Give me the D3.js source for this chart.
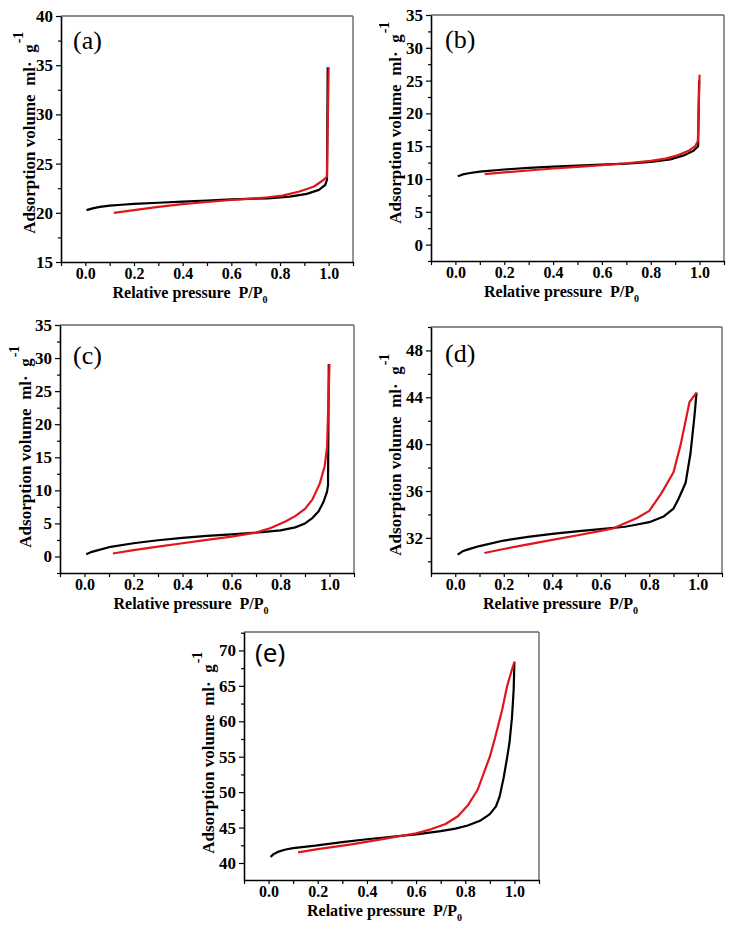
<!DOCTYPE html>
<html>
<head>
<meta charset="utf-8">
<script src="https://cdn.jsdelivr.net/npm/d3@7"></script>
<style>
  html, body { margin: 0; padding: 0; background: #fff; }
  svg { display: block; }
  svg text { white-space: pre; }
</style>
</head>
<body>
<svg id="chart" width="734" height="929"></svg>
<script>
// ---------------- DATA ----------------
const panelIds = ["a", "b", "c", "d", "e"];
const panelLabels = ["(a)", "(b)", "(c)", "(d)", "(e)"];
const xTitle = "Relative pressure  P/P";
const xTitleSub = "0";
const yTitle = "Adsorption volume  ml·  g";
const yTitleSup = "-1";

const xTicksMajor = [0.0, 0.2, 0.4, 0.6, 0.8, 1.0];
const xTicksMinor = [-0.1, 0.1, 0.3, 0.5, 0.7, 0.9, 1.1];
const xDomain = [-0.1, 1.1];

const yDomainA = [15, 40];
const yTicksA = [15, 20, 25, 30, 35, 40];
const yDomainB = [-2.5, 35];
const yTicksB = [0, 5, 10, 15, 20, 25, 30, 35];
const yDomainC = [-2.5, 35];
const yTicksC = [0, 5, 10, 15, 20, 25, 30, 35];
const yDomainD = [29, 50];
const yTicksD = [32, 36, 40, 44, 48];
const yDomainE = [37.6, 72.6];
const yTicksE = [40, 45, 50, 55, 60, 65, 70];

// (a) black = adsorption, red = desorption
const aBlackX = [0.005, 0.03, 0.06, 0.1, 0.15, 0.2, 0.3, 0.4, 0.5, 0.6, 0.7, 0.75, 0.84, 0.91, 0.96, 0.986, 0.993, 0.996];
const aBlackY = [20.27, 20.45, 20.6, 20.72, 20.82, 20.9, 21.02, 21.13, 21.25, 21.36, 21.44, 21.47, 21.64, 21.92, 22.33, 22.84, 23.36, 34.8];
const aRedX = [0.117, 0.2, 0.3, 0.4, 0.5, 0.6, 0.7, 0.75, 0.81, 0.88, 0.94, 0.98, 0.993, 1.0];
const aRedY = [20.0, 20.27, 20.6, 20.89, 21.1, 21.3, 21.47, 21.58, 21.75, 22.16, 22.67, 23.36, 23.7, 34.8];

// (b)
const bBlackX = [0.01, 0.03, 0.06, 0.1, 0.2, 0.3, 0.4, 0.5, 0.6, 0.7, 0.8, 0.88, 0.935, 0.975, 0.994, 0.998];
const bBlackY = [10.41, 10.7, 10.91, 11.12, 11.45, 11.7, 11.9, 12.05, 12.2, 12.35, 12.6, 13.0, 13.6, 14.3, 15.0, 25.0];
const bRedX = [0.12, 0.2, 0.3, 0.4, 0.5, 0.6, 0.7, 0.8, 0.86, 0.91, 0.955, 0.982, 0.993, 1.0];
const bRedY = [10.75, 11.0, 11.3, 11.6, 11.85, 12.1, 12.4, 12.75, 13.1, 13.6, 14.3, 15.0, 15.8, 25.9];

// (c)
const cBlackX = [0.007, 0.03, 0.06, 0.1, 0.2, 0.3, 0.4, 0.5, 0.6, 0.7, 0.8, 0.86, 0.9, 0.93, 0.955, 0.975, 0.99, 0.994, 0.997];
const cBlackY = [0.35, 0.7, 1.0, 1.4, 2.0, 2.45, 2.8, 3.1, 3.35, 3.6, 3.95, 4.4, 5.0, 5.8, 6.8, 8.2, 9.8, 10.8, 29.1];
const cRedX = [0.116, 0.2, 0.3, 0.4, 0.5, 0.6, 0.7, 0.76, 0.82, 0.86, 0.9, 0.93, 0.96, 0.98, 0.99, 1.0];
const cRedY = [0.45, 0.95, 1.5, 2.0, 2.5, 3.0, 3.6, 4.3, 5.3, 6.1, 7.2, 8.6, 11.0, 13.6, 16.5, 29.1];

// (d)
const dBlackX = [0.01, 0.03, 0.06, 0.1, 0.2, 0.3, 0.4, 0.5, 0.61, 0.7, 0.75, 0.8, 0.86, 0.9, 0.92, 0.95, 0.97, 0.986, 0.995];
const dBlackY = [30.57, 30.85, 31.06, 31.3, 31.77, 32.08, 32.34, 32.55, 32.77, 32.95, 33.14, 33.34, 33.83, 34.5, 35.3, 36.7, 39.2, 42.3, 44.4];
const dRedX = [0.12, 0.2, 0.3, 0.4, 0.5, 0.6, 0.65, 0.75, 0.8, 0.85, 0.9, 0.93, 0.966, 0.995];
const dRedY = [30.71, 31.05, 31.45, 31.83, 32.2, 32.6, 32.8, 33.7, 34.3, 35.8, 37.6, 40.0, 43.6, 44.4];

// (e)
const eBlackX = [0.008, 0.02, 0.04, 0.07, 0.1, 0.19, 0.3, 0.4, 0.5, 0.6, 0.7, 0.76, 0.81, 0.86, 0.9, 0.925, 0.94, 0.956, 0.97, 0.98, 0.99, 0.997, 1.0];
const eBlackY = [40.85, 41.25, 41.6, 41.9, 42.1, 42.44, 42.95, 43.35, 43.7, 44.05, 44.5, 44.85, 45.3, 45.95, 46.9, 48.0, 49.4, 52.0, 54.8, 57.0, 60.5, 64.5, 68.4];
const eRedX = [0.12, 0.2, 0.33, 0.47, 0.6, 0.66, 0.72, 0.77, 0.81, 0.85, 0.9, 0.92, 0.95, 0.97, 0.99, 1.0];
const eRedY = [41.5, 41.95, 42.6, 43.4, 44.2, 44.75, 45.5, 46.6, 48.1, 50.3, 55.0, 57.5, 61.6, 64.9, 67.3, 68.4];

const blackSeries = [[aBlackX, aBlackY], [bBlackX, bBlackY], [cBlackX, cBlackY], [dBlackX, dBlackY], [eBlackX, eBlackY]];
const redSeries = [[aRedX, aRedY], [bRedX, bRedY], [cRedX, cRedY], [dRedX, dRedY], [eRedX, eRedY]];
const yDomains = [yDomainA, yDomainB, yDomainC, yDomainD, yDomainE];
const yTicksAll = [yTicksA, yTicksB, yTicksC, yTicksD, yTicksE];

// ---------------- LAYOUT ----------------
const layout = [
  { l: 61,  r: 353, t: 16,  b: 262, ylx: -26, yly: 0,   lx: 73,  ly: 49,  lfont: '"Liberation Serif", serif', xtOff: -17 },
  { l: 431, r: 724, t: 15,  b: 261, ylx: -30, yly: -9,  lx: 445, ly: 48,  lfont: '"Liberation Serif", serif', xtOff: -16 },
  { l: 60,  r: 354, t: 325, b: 573, ylx: -29, yly: 4,   lx: 73,  ly: 364, lfont: '"Liberation Serif", serif', xtOff: -16 },
  { l: 431, r: 722, t: 327, b: 573, ylx: -30, yly: 11,  lx: 445, ly: 362, lfont: '"Liberation Serif", serif', xtOff: -16 },
  { l: 244, r: 539, t: 632, b: 880, ylx: -30, yly: 3,   lx: 255, ly: 662, lfont: '"Noto Sans", sans-serif', xtOff: -7 }
];
const serif = '"Liberation Serif", "DejaVu Serif", serif';
const red = "#e0161b";

const svg = d3.select("#chart");

function styleTickText(s, size) {
  s.selectAll(".tick text")
    .attr("fill", "#000")
    .style("font-family", serif)
    .style("font-weight", "700")
    .style("font-size", size + "px");
}

panelIds.forEach((id, i) => {
  const L = layout[i];
  const x = d3.scaleLinear().domain(xDomain).range([L.l, L.r]);
  const y = d3.scaleLinear().domain(yDomains[i]).range([L.b, L.t]);
  const g = svg.append("g").attr("class", "panel-" + id);

  // frame (top/right in gray)
  g.append("line").attr("x1", L.l).attr("x2", L.r).attr("y1", L.t).attr("y2", L.t)
    .attr("stroke", "#666").attr("stroke-width", 1.4);
  g.append("line").attr("x1", L.r).attr("x2", L.r).attr("y1", L.t).attr("y2", L.b)
    .attr("stroke", "#666").attr("stroke-width", 1.4);

  // minor ticks
  const yMaj = yTicksAll[i];
  const step = yMaj[1] - yMaj[0];
  const yMinor = [];
  const dom = yDomains[i];
  for (let v = yMaj[0] - step / 2; v <= dom[1] + 1e-9; v += step) {
    if (v >= dom[0] - 1e-9 && !yMaj.some(m => Math.abs(m - v) < 1e-9)) yMinor.push(+v.toFixed(3));
  }
  g.append("g").attr("transform", `translate(${L.l},0)`)
    .call(d3.axisLeft(y).tickValues(yMinor).tickSize(3).tickFormat(""))
    .call(s => s.select(".domain").remove())
    .call(s => s.selectAll("line").attr("stroke", "#000").attr("stroke-width", 1.2));
  g.append("g").attr("transform", `translate(0,${L.b})`)
    .call(d3.axisBottom(x).tickValues(xTicksMinor).tickSize(4).tickFormat(""))
    .call(s => s.select(".domain").remove())
    .call(s => s.selectAll("line").attr("stroke", "#000").attr("stroke-width", 1.2));

  // major axes
  g.append("g").attr("transform", `translate(${L.l},0)`)
    .call(d3.axisLeft(y).tickValues(yMaj).tickSize(5).tickSizeOuter(0).tickPadding(3).tickFormat(d3.format("d")))
    .call(s => s.select(".domain").attr("stroke", "#000").attr("stroke-width", 1.6))
    .call(s => s.selectAll(".tick line").attr("stroke", "#000").attr("stroke-width", 1.2))
    .call(s => styleTickText(s, 17));
  g.append("g").attr("transform", `translate(0,${L.b})`)
    .call(d3.axisBottom(x).tickValues(xTicksMajor).tickSize(4).tickSizeOuter(0).tickPadding(2).tickFormat(d3.format(".1f")))
    .call(s => s.select(".domain").attr("stroke", "#000").attr("stroke-width", 1.6))
    .call(s => s.selectAll(".tick line").attr("stroke", "#000").attr("stroke-width", 1.2))
    .call(s => styleTickText(s, 16));

  // curves
  const line = d3.line().x(d => x(d[0])).y(d => y(d[1]));
  const bk = blackSeries[i][0].map((v, k) => [v, blackSeries[i][1][k]]);
  const rd = redSeries[i][0].map((v, k) => [v, redSeries[i][1][k]]);
  g.append("path").attr("d", line(bk)).attr("fill", "none").attr("stroke", "#000")
    .attr("stroke-width", 2.2).attr("stroke-linejoin", "round");
  g.append("path").attr("d", line(rd)).attr("fill", "none").attr("stroke", red)
    .attr("stroke-width", 2.2).attr("stroke-linejoin", "round");

  // x title
  const xt = g.append("text")
    .attr("x", (L.l + L.r) / 2 + L.xtOff).attr("y", L.b + 36)
    .attr("text-anchor", "middle")
    .style("font-family", serif).style("font-weight", "700").style("font-size", "16px");
  xt.append("tspan").text(xTitle);
  xt.append("tspan").attr("dy", 5).style("font-size", "10px").text(xTitleSub);

  // y title
  const cy = (L.t + L.b) / 2 + L.yly;
  const yt = g.append("text")
    .attr("transform", `translate(${L.l + L.ylx},${cy}) rotate(-90)`)
    .attr("text-anchor", "middle")
    .style("font-family", serif).style("font-weight", "700").style("font-size", "17px")
    .text(yTitle);
  const len = yt.node().getComputedTextLength();
  // superscript placed after main text end
  g.append("text")
    .attr("transform", `translate(${L.l + L.ylx - 12},${cy - len / 2 - 1}) rotate(-90)`)
    .attr("text-anchor", "start")
    .style("font-family", serif).style("font-weight", "700").style("font-size", "14px")
    .text(yTitleSup);

  // panel label
  g.append("text").attr("x", L.lx).attr("y", L.ly)
    .style("font-family", L.lfont).style("font-size", "26px").text(panelLabels[i]);
});
</script>
</body>
</html>
